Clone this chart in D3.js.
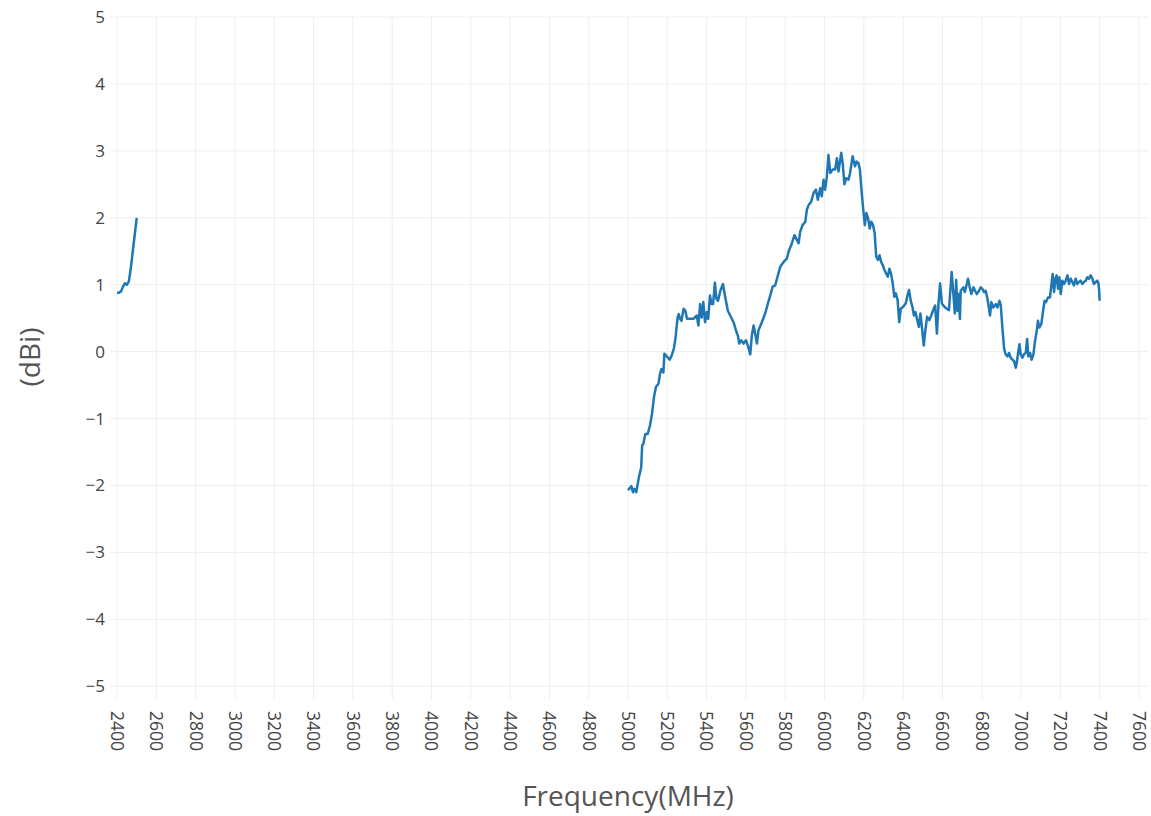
<!DOCTYPE html>
<html>
<head>
<meta charset="utf-8">
<script src="https://cdn.jsdelivr.net/npm/d3@7"></script>
<style>
  body { margin: 0; background: #fff; }
  text { font-family: "Open Sans", sans-serif; }
</style>
</head>
<body>
<svg id="svg1" width="1151" height="816"></svg>
<script>
// gain data
var band24Freq = [2400, 2410, 2420, 2430, 2440, 2450, 2460, 2470, 2480, 2490, 2500];
var band24Gain = [0.88, 0.88, 0.90, 0.97, 1.02, 1.00, 1.05, 1.25, 1.50, 1.75, 2.00];

var band5Freq = [
  5000, 5017, 5025, 5033, 5042, 5055, 5067, 5072, 5078, 5088, 5100, 5112, 5122, 5132, 5142, 5155,
  5163, 5170, 5180, 5185, 5200, 5212, 5222, 5233, 5242, 5252, 5258, 5265, 5272, 5283, 5292, 5300,
  5317, 5333, 5350, 5358, 5367, 5375, 5383, 5392, 5400, 5408, 5417, 5425, 5433, 5442, 5450, 5458,
  5470, 5483, 5495, 5508, 5525, 5537, 5549, 5559, 5566, 5576, 5588, 5600, 5610, 5622, 5630, 5639,
  5647, 5656, 5664, 5681, 5698, 5712, 5724, 5736, 5749, 5761, 5775, 5792, 5808, 5820, 5834, 5847,
  5859, 5868, 5876, 5888, 5902, 5910, 5919, 5932, 5944, 5956, 5966, 5978, 5986, 5995, 6003, 6012,
  6020, 6029, 6041, 6054, 6063, 6071, 6085, 6093, 6101, 6110, 6122, 6130, 6143, 6155, 6163, 6172,
  6180, 6188, 6197, 6205, 6213, 6222, 6230, 6238, 6247, 6255, 6263, 6272, 6280, 6288, 6297, 6305,
  6313, 6322, 6330, 6338, 6347, 6355, 6363, 6372, 6380, 6388, 6400, 6413, 6422, 6430, 6438, 6447,
  6455, 6463, 6472, 6480, 6488, 6497, 6505, 6513, 6522, 6533, 6543, 6555, 6563, 6572, 6580, 6588,
  6597, 6610, 6622, 6633, 6647, 6655, 6663, 6670, 6676, 6682, 6689, 6693, 6707, 6714, 6724, 6730,
  6739, 6747, 6758, 6766, 6775, 6786, 6795, 6803, 6812, 6820, 6829, 6837, 6842, 6849, 6859, 6871,
  6880, 6890, 6897, 6905, 6914, 6922, 6931, 6939, 6947, 6956, 6964, 6973, 6978, 6985, 6992, 6998,
  7007, 7015, 7024, 7031, 7037, 7046, 7054, 7063, 7071, 7080, 7086, 7093, 7103, 7112, 7120, 7127,
  7137, 7147, 7154, 7161, 7168, 7175, 7181, 7188, 7195, 7202, 7210, 7219, 7227, 7236, 7244, 7253,
  7261, 7269, 7278, 7286, 7295, 7303, 7312, 7320, 7329, 7337, 7346, 7354, 7363, 7371, 7380, 7388,
  7394, 7397, 7400];
var band5Gain = [
  -2.07, -2.01, -2.10, -2.05, -2.10, -1.88, -1.73, -1.40, -1.38, -1.23, -1.23, -1.10, -0.93, -0.68, -0.53, -0.48,
  -0.33, -0.26, -0.31, -0.03, -0.08, -0.12, -0.06, 0.04, 0.21, 0.51, 0.56, 0.49, 0.46, 0.64, 0.61, 0.49,
  0.49, 0.49, 0.54, 0.39, 0.71, 0.51, 0.74, 0.44, 0.59, 0.49, 0.84, 0.71, 0.71, 1.03, 0.79, 0.76,
  0.91, 1.01, 0.81, 0.61, 0.51, 0.44, 0.32, 0.24, 0.12, 0.17, 0.12, 0.17, 0.09, -0.04, 0.24, 0.39,
  0.27, 0.12, 0.32, 0.44, 0.57, 0.72, 0.84, 0.97, 0.99, 1.12, 1.27, 1.34, 1.39, 1.52, 1.62, 1.74,
  1.67, 1.62, 1.79, 1.89, 1.94, 2.12, 2.19, 2.24, 2.37, 2.42, 2.27, 2.44, 2.32, 2.57, 2.42, 2.62,
  2.94, 2.67, 2.72, 2.72, 2.89, 2.69, 2.97, 2.80, 2.50, 2.59, 2.57, 2.67, 2.92, 2.77, 2.84, 2.82,
  2.72, 2.42, 2.12, 1.89, 2.07, 1.99, 1.84, 1.94, 1.89, 1.77, 1.42, 1.37, 1.44, 1.34, 1.29, 1.22,
  1.17, 1.12, 1.24, 1.17, 1.02, 0.82, 0.87, 0.77, 0.44, 0.64, 0.67, 0.72, 0.84, 0.92, 0.77, 0.67,
  0.54, 0.59, 0.47, 0.37, 0.57, 0.32, 0.09, 0.32, 0.52, 0.47, 0.54, 0.64, 0.69, 0.27, 0.72, 1.02,
  0.72, 0.67, 0.64, 0.62, 1.19, 0.89, 0.57, 1.07, 0.61, 0.86, 0.49, 0.91, 0.96, 0.89, 1.01, 1.09,
  0.96, 0.86, 0.96, 0.91, 0.86, 0.91, 0.96, 0.94, 0.89, 0.91, 0.79, 0.64, 0.54, 0.74, 0.66, 0.71,
  0.66, 0.76, 0.69, 0.36, 0.04, -0.04, -0.07, -0.02, -0.09, -0.12, -0.14, -0.24, -0.17, -0.02, 0.11, -0.04,
  -0.09, -0.04, -0.02, 0.19, -0.07, -0.02, -0.12, -0.04, 0.16, 0.31, 0.46, 0.36, 0.41, 0.61, 0.76, 0.74,
  0.81, 0.81, 0.99, 1.16, 0.89, 1.09, 1.14, 0.94, 1.11, 0.86, 1.06, 1.01, 1.06, 1.14, 1.01, 1.09,
  1.04, 0.99, 1.09, 1.01, 1.04, 1.06, 1.01, 1.04, 1.06, 1.11, 1.09, 1.14, 1.09, 1.01, 1.04, 1.06,
  1.02, 0.93, 0.76];

var xTicks = [2400, 2600, 2800, 3000, 3200, 3400, 3600, 3800, 4000, 4200, 4400, 4600, 4800,
              5000, 5200, 5400, 5600, 5800, 6000, 6200, 6400, 6600, 6800, 7000, 7200, 7400, 7600];
var yTicks = [-5, -4, -3, -2, -1, 0, 1, 2, 3, 4, 5];

function drawChart() {
  var svg = d3.select("#svg1");
  var plotLeft = 110, plotRight = 1148, plotTop = 17, plotBottom = 699;

  var xScale = d3.scaleLinear().domain([2364, 7646]).range([plotLeft, plotRight]);
  var yScale = d3.scaleLinear().domain([-5.19, 5]).range([plotBottom, plotTop]);

  // grid
  svg.append("g").selectAll("line")
    .data(xTicks).enter().append("line")
    .attr("x1", function(d) { return xScale(d); })
    .attr("x2", function(d) { return xScale(d); })
    .attr("y1", plotTop).attr("y2", plotBottom)
    .attr("stroke", "#eeeeee").attr("stroke-width", 1);

  svg.append("g").selectAll("line")
    .data(yTicks).enter().append("line")
    .attr("x1", plotLeft).attr("x2", plotRight)
    .attr("y1", function(d) { return yScale(d); })
    .attr("y2", function(d) { return yScale(d); })
    .attr("stroke", "#eeeeee").attr("stroke-width", 1);

  // tick labels
  svg.append("g").selectAll("text")
    .data(yTicks).enter().append("text")
    .attr("x", 105)
    .attr("y", function(d) { return yScale(d); })
    .attr("dy", "0.35em")
    .attr("text-anchor", "end")
    .attr("font-size", "17px")
    .attr("fill", "#444")
    .text(function(d) { return d < 0 ? "\u2212" + Math.abs(d) : d; });

  svg.append("g").selectAll("text")
    .data(xTicks).enter().append("text")
    .attr("transform", function(d) { return "translate(" + xScale(d) + ",711) rotate(90)"; })
    .attr("dy", "0.35em")
    .attr("text-anchor", "start")
    .attr("font-size", "17.5px")
    .attr("fill", "#444")
    .text(function(d) { return d; });

  // axis titles
  svg.append("text")
    .attr("x", 628).attr("y", 806)
    .attr("text-anchor", "middle")
    .attr("font-size", "28px")
    .attr("fill", "#555")
    .text("Frequency(MHz)");

  svg.append("text")
    .attr("transform", "translate(40,357) rotate(-90)")
    .attr("text-anchor", "middle")
    .attr("font-size", "28px")
    .attr("fill", "#555")
    .text("(dBi)");

  // gain trace, one path per band
  var line = d3.line()
    .x(function(d) { return xScale(d[0]); })
    .y(function(d) { return yScale(d[1]); });

  var segments = [d3.zip(band24Freq, band24Gain), d3.zip(band5Freq, band5Gain)];

  svg.append("g").selectAll("path")
    .data(segments).enter().append("path")
    .attr("d", line)
    .attr("fill", "none")
    .attr("stroke", "#1f77b4")
    .attr("stroke-width", 2.5)
    .attr("stroke-linejoin", "round");
}

drawChart();
</script>
</body>
</html>
